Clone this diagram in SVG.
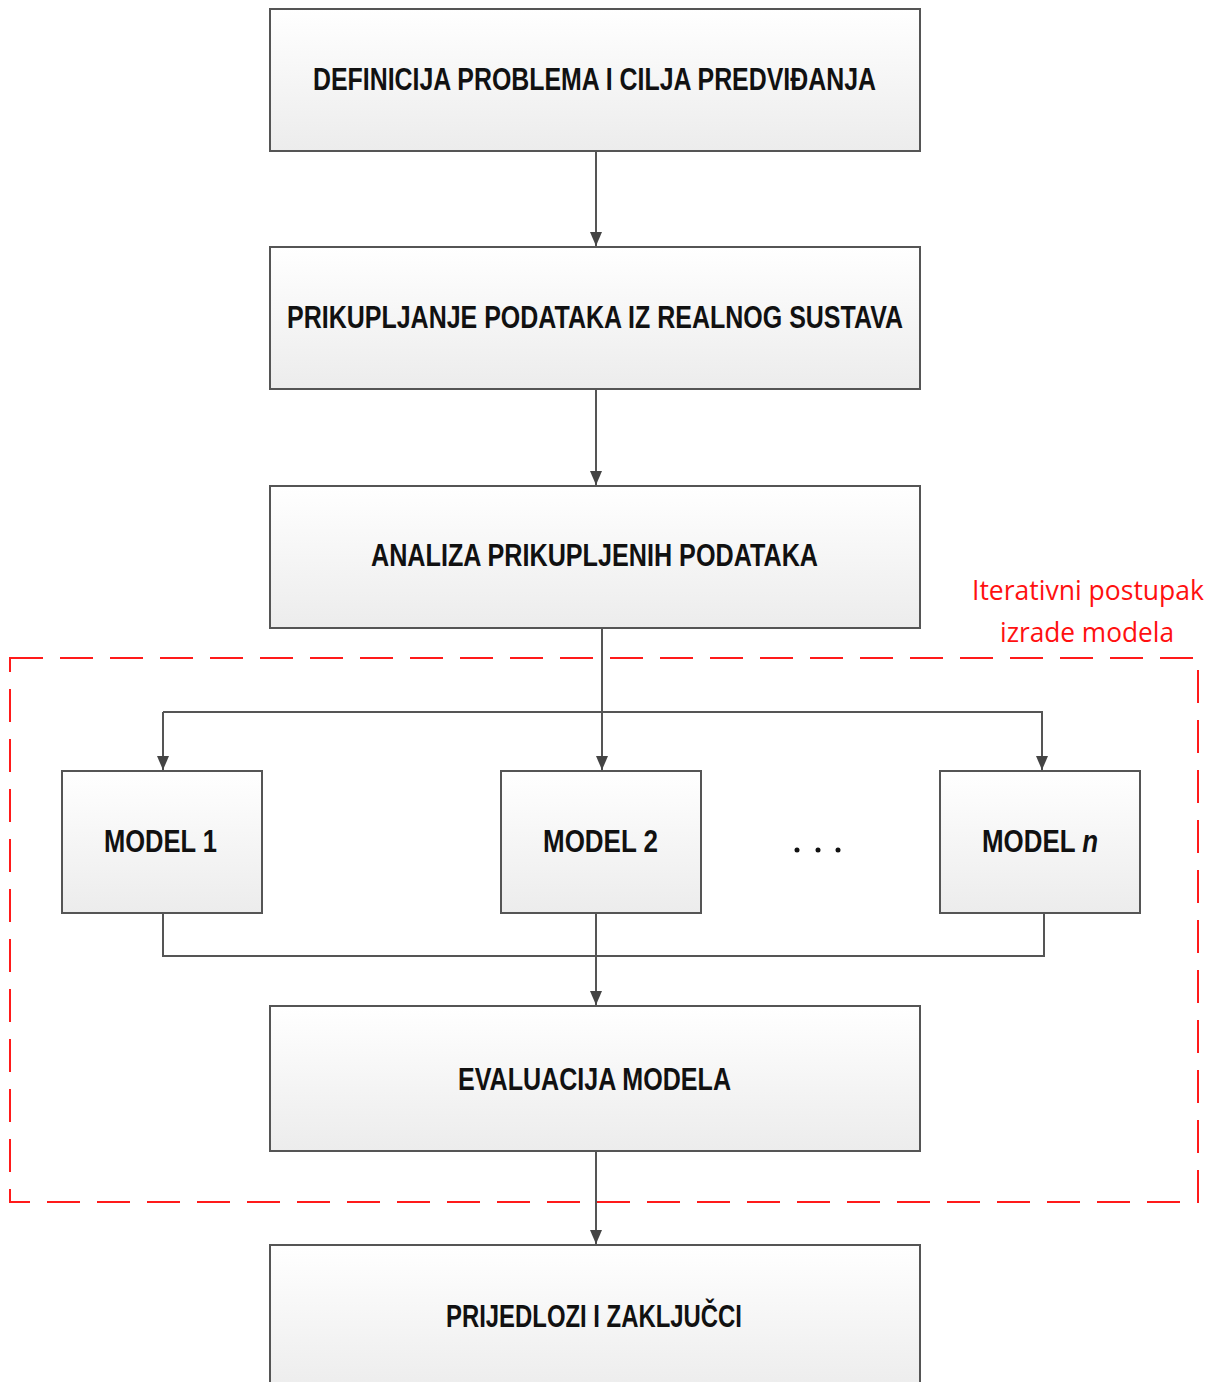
<svg xmlns="http://www.w3.org/2000/svg" width="1215" height="1382" viewBox="0 0 1215 1382">
<style>
.box{fill:url(#g);stroke:#555;stroke-width:2}
.lbl{font-family:"Liberation Sans",Arial,sans-serif;font-weight:bold;font-size:31px;fill:#111}
.con{fill:none;stroke:#555;stroke-width:2}
.red{font-family:"Open Sans","Liberation Sans",sans-serif;font-size:27px;fill:#ff1010}
</style>
<defs>
<linearGradient id="g" x1="0" y1="0" x2="0" y2="1"><stop offset="0" stop-color="#ffffff"/><stop offset="1" stop-color="#ececec"/></linearGradient>
<marker id="a" markerWidth="14" markerHeight="12" refX="14" refY="6" orient="auto" markerUnits="userSpaceOnUse" viewBox="0 0 14 12"><path d="M0,0 L14,6 L0,12 Z" fill="#444"/></marker>
</defs>
<rect x="10" y="658" width="1188" height="544" fill="none" stroke="#ff1a1a" stroke-width="2" stroke-dasharray="33,17"/>
<g id="connectors">
<path class="con" d="M596,151 V246" marker-end="url(#a)"/>
<path class="con" d="M596,389 V485" marker-end="url(#a)"/>
<path class="con" d="M602,628 V770" marker-end="url(#a)"/>
<path class="con" d="M163,712 H1042 V770" marker-end="url(#a)"/>
<path class="con" d="M163,712 V770" marker-end="url(#a)"/>
<path class="con" d="M163,913 V956 H1044 V913"/>
<path class="con" d="M596,913 V1005" marker-end="url(#a)"/>
<path class="con" d="M596,1151 V1244" marker-end="url(#a)"/>
</g>
<g id="n1"><rect class="box" x="270" y="9" width="650" height="142"/><text class="lbl" x="313" y="90" textLength="563" lengthAdjust="spacingAndGlyphs">DEFINICIJA PROBLEMA I CILJA PREDVIĐANJA</text></g>
<g id="n2"><rect class="box" x="270" y="247" width="650" height="142"/><text class="lbl" x="287" y="328" textLength="616" lengthAdjust="spacingAndGlyphs">PRIKUPLJANJE PODATAKA IZ REALNOG SUSTAVA</text></g>
<g id="n3"><rect class="box" x="270" y="486" width="650" height="142"/><text class="lbl" x="371" y="566" textLength="447" lengthAdjust="spacingAndGlyphs">ANALIZA PRIKUPLJENIH PODATAKA</text></g>
<g id="m1"><rect class="box" x="62" y="771" width="200" height="142"/><text class="lbl" x="104" y="852" textLength="113" lengthAdjust="spacingAndGlyphs">MODEL 1</text></g>
<g id="m2"><rect class="box" x="501" y="771" width="200" height="142"/><text class="lbl" x="543" y="852" textLength="115" lengthAdjust="spacingAndGlyphs">MODEL 2</text></g>
<g id="dots"><circle cx="797" cy="850" r="2.5" fill="#111"/><circle cx="818" cy="850" r="2.5" fill="#111"/><circle cx="838" cy="850" r="2.5" fill="#111"/></g>
<g id="mn"><rect class="box" x="940" y="771" width="200" height="142"/><text class="lbl" x="982" y="852" textLength="116" lengthAdjust="spacingAndGlyphs">MODEL <tspan font-style="italic">n</tspan></text></g>
<g id="n4"><rect class="box" x="270" y="1006" width="650" height="145"/><text class="lbl" x="458" y="1090" textLength="273" lengthAdjust="spacingAndGlyphs">EVALUACIJA MODELA</text></g>
<g id="n5"><rect class="box" x="270" y="1245" width="650" height="150"/><text class="lbl" x="446" y="1327" textLength="296" lengthAdjust="spacingAndGlyphs">PRIJEDLOZI I ZAKLJUČCI</text></g>
<g id="label"><text class="red" x="972" y="600" textLength="232" lengthAdjust="spacingAndGlyphs">Iterativni postupak</text><text class="red" x="1000" y="642" textLength="174" lengthAdjust="spacingAndGlyphs">izrade modela</text></g>
</svg>
